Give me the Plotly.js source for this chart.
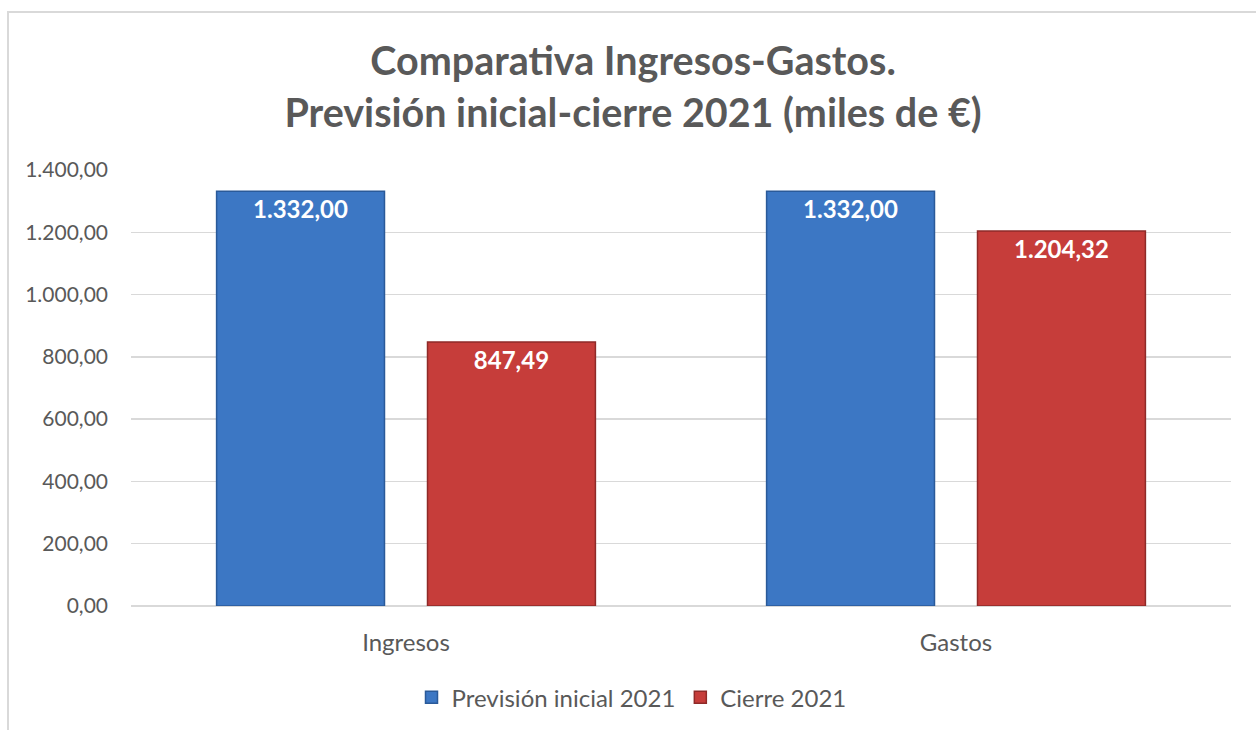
<!DOCTYPE html>
<html>
<head>
<meta charset="utf-8">
<script src="https://cdn.plot.ly/plotly-3.0.1.min.js"></script>
<style>
  html, body { margin: 0; padding: 0; background: #ffffff; }
  #frame { position: absolute; left: 7px; top: 11px; width: 1260px; height: 730px;
           border-left: 2px solid #d9d9d9; border-top: 2px solid #d9d9d9; pointer-events: none; z-index: 5; }
  #chart { position: absolute; left: 0; top: 0; width: 1256px; height: 730px; }
</style>
</head>
<body>
<div id="chart"></div>
<div id="frame"></div>
<script>
const categories = ["Ingresos", "Gastos"];
const seriesNames = ["Previsión inicial 2021", "Cierre 2021"];
const prevision = [1332.00, 1332.00];
const cierre = [847.49, 1204.32];
const tickVals = [0, 200, 400, 600, 800, 1000, 1200, 1400];

const FONT = "Lato, Open Sans, Liberation Sans, sans-serif";
const textFont = { family: FONT, size: 24, color: "#ffffff", weight: "bold" };

const traces = [
  {
    type: "bar", name: seriesNames[0], x: categories, y: prevision,
    marker: { color: "#3c77c4", line: { color: "#2a5a99", width: 1.5 } },
    texttemplate: "<b>%{y:,.2f}</b>", textposition: "inside", insidetextanchor: "end", textangle: 0,
    textfont: textFont, constraintext: "none", hoverinfo: "skip"
  },
  {
    type: "bar", name: seriesNames[1], x: categories, y: cierre,
    marker: { color: "#c63d3a", line: { color: "#8f2a28", width: 1.5 } },
    texttemplate: "<b>%{y:,.2f}</b>", textposition: "inside", insidetextanchor: "end", textangle: 0,
    textfont: textFont, constraintext: "none", hoverinfo: "skip"
  }
];

const layout = {
  width: 1256, height: 730,
  margin: { l: 131, r: 25, t: 170, b: 124, autoexpand: false },
  paper_bgcolor: "#ffffff", plot_bgcolor: "#ffffff",
  separators: ",.",
  font: { family: FONT, color: "#595959" },
  title: {
    text: "<b>Comparativa Ingresos-Gastos.<br>Previsión inicial-cierre 2021 (miles de €)</b>",
    x: 0.504, xref: "container", xanchor: "center",
    y: 0.897, yref: "container", yanchor: "middle",
    font: { size: 39.5, color: "#595959", family: FONT }
  },
  barmode: "group", bargap: 0.233, bargroupgap: 0.204,
  xaxis: {
    type: "category", showgrid: false, showline: false, zeroline: false,
    ticks: "", tickfont: { size: 24, color: "#595959" }, ticklabelstandoff: 20
  },
  yaxis: {
    range: [0, 1400], tickvals: tickVals, tickformat: ",.2f",
    showgrid: true, gridcolor: "#d9d9d9", gridwidth: 1.3,
    zeroline: true, zerolinecolor: "#d9d9d9", zerolinewidth: 1.5,
    showline: false, ticks: "", tickfont: { size: 21, color: "#595959" }, ticklabelstandoff: 22
  },
  showlegend: true,
  legend: {
    orientation: "h", x: 0.455, xanchor: "center", y: -0.21, yanchor: "middle",
    font: { size: 24, color: "#595959" }, traceorder: "normal", itemwidth: 30
  }
};

Plotly.newPlot("chart", traces, layout, { displayModeBar: false, staticPlot: true });
</script>
</body>
</html>
